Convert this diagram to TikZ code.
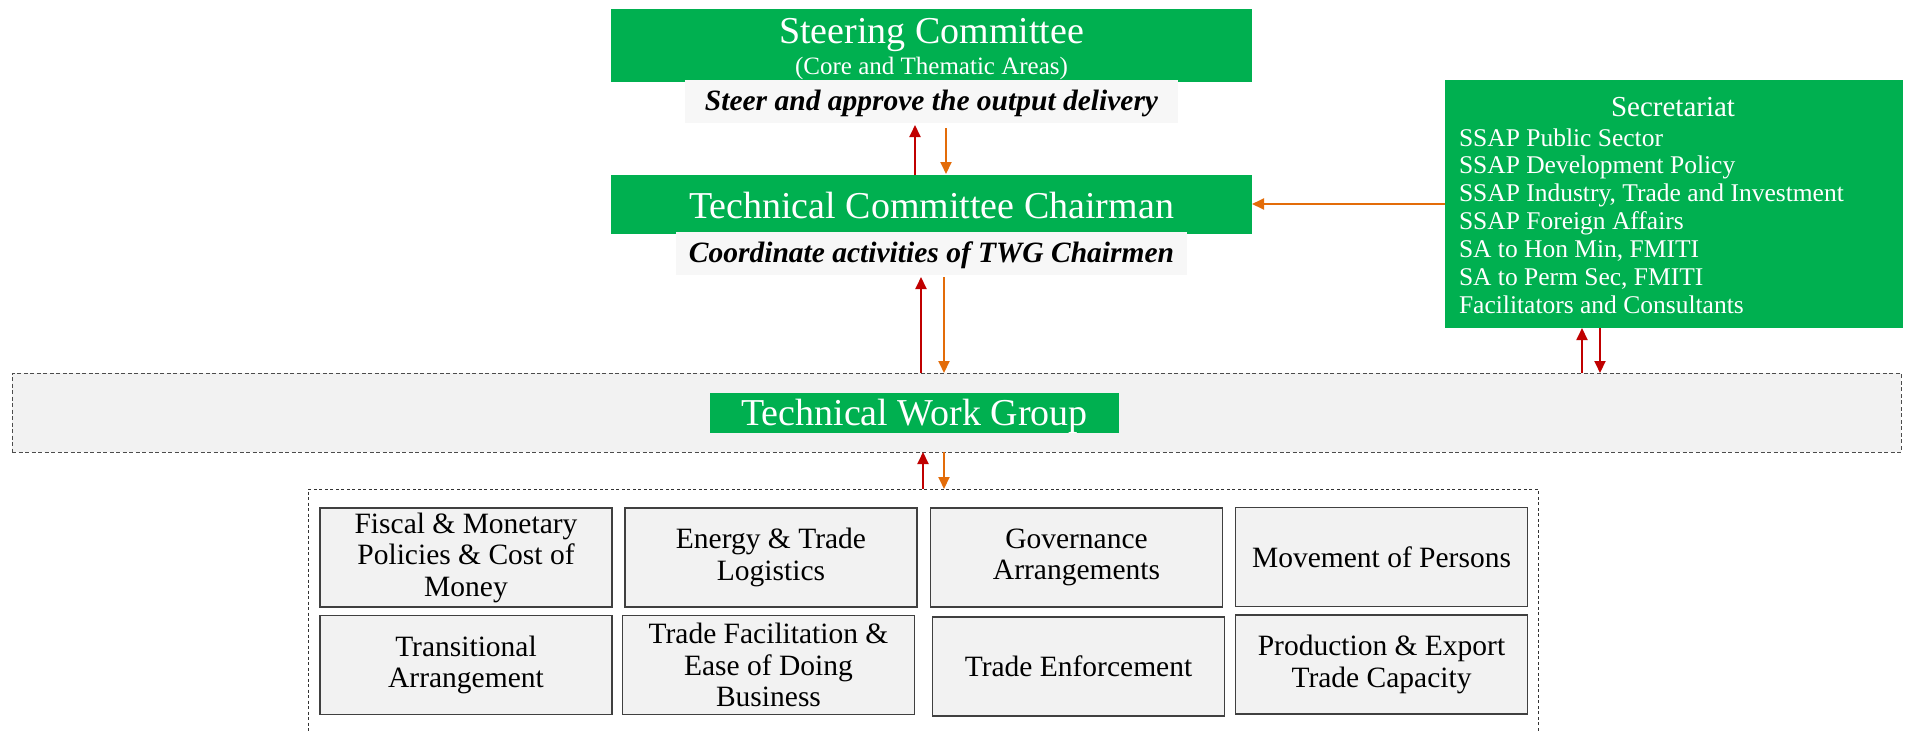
\documentclass[tikz,border=0pt]{standalone}
\usepackage{fontspec}
\setmainfont{Liberation Serif}
\usetikzlibrary{arrows.meta}
\definecolor{ssgreen}{HTML}{00B050}
\definecolor{upred}{HTML}{C00000}
\definecolor{downorange}{HTML}{E36C09}
\definecolor{boxgray}{HTML}{F2F2F2}
\definecolor{notegray}{HTML}{F7F7F7}
\begin{document}
\begin{tikzpicture}[x=1pt, y=-1pt,
  every node/.style = {inner sep=0pt, outer sep=0pt},
  headbox/.style = {fill=ssgreen, text=white, font=\fontsize{38}{46}\selectfont},
  notebox/.style = {fill=notegray, minimum height=43pt, text height=17pt, text depth=0pt,
    font=\fontsize{29.5}{35}\selectfont\bfseries\itshape},
  groupbox/.style = {draw=black!75, line width=1.2pt, fill=boxgray, align=center,
    minimum width=292pt, minimum height=99pt, font=\fontsize{29.5}{31.5}\selectfont},
  redarrow/.style = {draw=upred, line width=1.9pt, -{Triangle[length=12pt,width=11pt]}},
  orangearrow/.style = {draw=downorange, line width=1.9pt, -{Triangle[length=12pt,width=11pt]}}]
  \useasboundingbox (0,0) rectangle (1907,732);

  % committees
  \node[headbox, minimum width=641pt, minimum height=73pt, text height=26pt, text depth=31pt]
    (steering) at (931.5,45.5) {Steering Committee};
  \node[text=white, font=\fontsize{25}{30}\selectfont, anchor=base]
    (steeringsub) at (931.5,74) {(Core and Thematic Areas)};
  \node[notebox, minimum width=493pt] (steer) at (931.5,101.5) {Steer and approve the output delivery};
  \node[headbox, minimum width=641pt, minimum height=59pt, text height=27pt, text depth=0pt]
    (tcc) at (931.5,204.5) {Technical Committee Chairman};
  \node[notebox, minimum width=511pt] (coord) at (931.5,253.5) {Coordinate activities of TWG Chairmen};

  % secretariat
  \node[fill=ssgreen, minimum width=458pt, minimum height=248pt] (secretariat) at (1674,204) {};
  \node[text=white, font=\fontsize{29}{34}\selectfont, anchor=base] (sectitle) at (1673,116) {Secretariat};
  \node[text=white, font=\fontsize{25.5}{27.83}\selectfont, align=left, anchor=base west]
    (seclist) at (1459,313) {SSAP Public Sector\\SSAP Development Policy\\
    SSAP Industry, Trade and Investment\\SSAP Foreign Affairs\\SA to Hon Min, FMITI\\
    SA to Perm Sec, FMITI\\Facilitators and Consultants};

  % work group
  \node[draw=black!70, dash pattern=on 4pt off 2.5pt, line width=1pt, fill=boxgray,
    minimum width=1889pt, minimum height=79pt] (twgband) at (956.5,412.5) {};
  \node[headbox, minimum width=409pt, minimum height=40pt, text height=24pt, text depth=0pt]
    (twg) at (914.5,413) {Technical Work Group};
  \node[draw=black!80, dash pattern=on 3pt off 2.5pt, line width=0.9pt,
    minimum width=1230pt, minimum height=260pt, anchor=north] (groups) at (923,489) {};

  \node[groupbox] (fiscal) at (466,557.5) {Fiscal \& Monetary\\Policies \& Cost of\\Money};
  \node[groupbox] (energy) at (771,557.5) {Energy \& Trade\\Logistics};
  \node[groupbox] (governance) at (1076.5,557.5) {Governance\\Arrangements};
  \node[groupbox] (movement) at (1381.5,557) {Movement of Persons};
  \node[groupbox] (transitional) at (466,665) {Transitional\\Arrangement};
  \node[groupbox] (facilitation) at (768.5,665) {Trade Facilitation \&\\Ease of Doing\\Business};
  \node[groupbox] (enforcement) at (1078.5,666.5) {Trade Enforcement};
  \node[groupbox] (production) at (1381.5,664.5) {Production \& Export\\Trade Capacity};

  % arrows
  \draw[redarrow, shorten >=2pt] ([xshift=-16.5pt]tcc.north) -- ([xshift=-16.5pt]steer.south);
  \draw[orangearrow, shorten <=5pt, shorten >=1pt] ([xshift=14.5pt]steer.south) -- ([xshift=14.5pt]tcc.north);
  \draw[orangearrow] (secretariat.west) -- (secretariat.west -| tcc.east);
  \draw[redarrow, shorten >=2pt] ([xshift=-10.5pt]coord.south |- twgband.north) -- ([xshift=-10.5pt]coord.south);
  \draw[orangearrow, shorten <=2pt] ([xshift=12.5pt]coord.south) -- ([xshift=12.5pt]coord.south |- twgband.north);
  \draw[redarrow] ([xshift=-92pt]secretariat.south |- twgband.north) -- ([xshift=-92pt]secretariat.south);
  \draw[redarrow] ([xshift=-74pt]secretariat.south) -- ([xshift=-74pt]secretariat.south |- twgband.north);
  \draw[redarrow] (groups.north) -- (groups.north |- twgband.south);
  \draw[orangearrow] ([xshift=21pt]groups.north |- twgband.south) -- ([xshift=21pt]groups.north);
\end{tikzpicture}
\end{document}
